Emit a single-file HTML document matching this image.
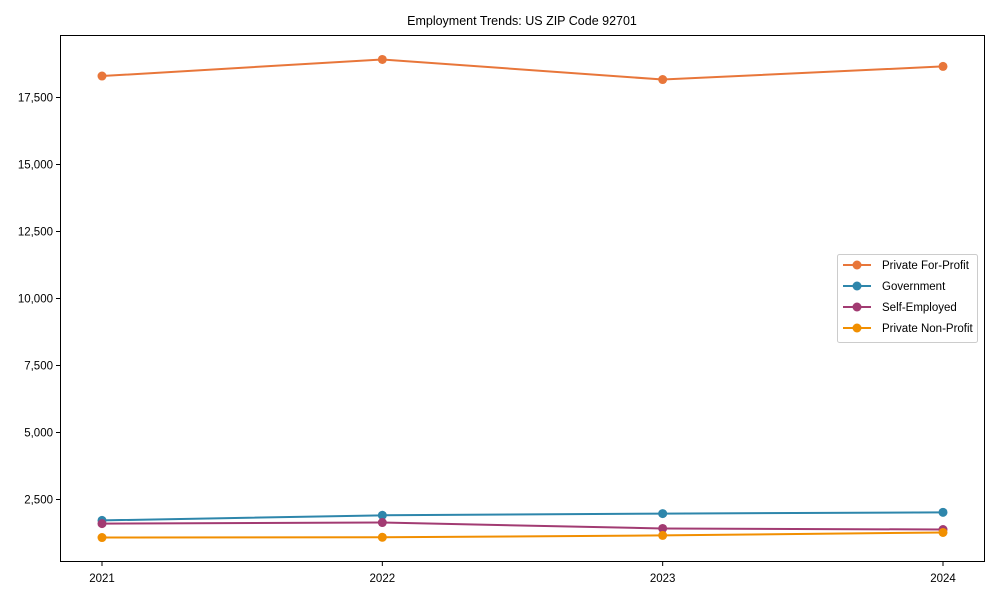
<!DOCTYPE html>
<html><head><meta charset="utf-8"><style>
body{margin:0;background:#fff;}
svg{font-family:"Liberation Sans",Arial,sans-serif;}
</style></head><body>
<svg id="chart" width="1000" height="600">
<text x="522" y="25" text-anchor="middle" font-size="12.5">Employment Trends: US ZIP Code 92701</text>
<rect x="60.5" y="35.5" width="924" height="526" fill="none" stroke="#000" stroke-width="1"/>
<g id="yaxis"></g><g id="xaxis"></g><g id="series"></g>
<g>
<rect x="837.5" y="254.5" width="140" height="88" fill="#fff" stroke="#ccc" rx="2"/>
<g id="legend"></g>
</g>
</svg>
<script>
const years=["2021","2022","2023","2024"];
const names=["Private For-Profit","Government","Self-Employed","Private Non-Profit"];
const colors=["#e8763a","#2e86ab","#a23b72","#f18f01"];
const forProfit=[18300,18920,18170,18660];
const government=[1720,1910,1975,2020];
const selfEmployed=[1600,1640,1420,1380];
const nonProfit=[1080,1090,1160,1270];
const yTicks=[2500,5000,7500,10000,12500,15000,17500];
const ns="http://www.w3.org/2000/svg";
function X(i){return 102+i*(943-102)/(years.length-1);}
function Y(v){return 566.5-v*(67/2500);}
function mk(t,a,p){const e=document.createElementNS(ns,t);for(const k in a)e.setAttribute(k,a[k]);p.appendChild(e);return e;}
const ya=document.getElementById('yaxis'),xa=document.getElementById('xaxis'),sg=document.getElementById('series'),lg=document.getElementById('legend');
yTicks.forEach(v=>{
 const l=mk('line',{x1:56,x2:60.5,y1:Y(v),y2:Y(v),stroke:'#000'},ya);
 
 
 const t=mk('text',{x:53,y:Y(v)+4,'text-anchor':'end','font-size':11.5},ya);
 t.textContent=v.toLocaleString('en-US');
 
 
});
years.forEach((y,i)=>{
 const l=mk('line',{x1:X(i),x2:X(i),y1:561.5,y2:566,stroke:'#000'},xa);
 
 
 const t=mk('text',{x:X(i),y:582,'text-anchor':'middle','font-size':11.5},xa);
 t.textContent=y;
 
 
});
[forProfit,government,selfEmployed,nonProfit].forEach((d,s)=>{
 const g=mk('g',{},sg);
 
 
 mk('polyline',{points:d.map((v,i)=>X(i)+','+Y(v)).join(' '),fill:'none',stroke:colors[s],'stroke-width':2},g);
 d.forEach((v,i)=>{
  const c=mk('circle',{cx:X(i),cy:Y(v),r:4.5,fill:colors[s]},g);
  
  
 });
 const ly=265+s*21;
 const le=mk('g',{},lg);
 
 
 mk('line',{x1:843,x2:871,y1:ly,y2:ly,stroke:colors[s],'stroke-width':2},le);
 mk('circle',{cx:857,cy:ly,r:4.5,fill:colors[s]},le);
 const t=mk('text',{x:882,y:ly+4,'font-size':11.5},le);
 t.textContent=names[s];
});
</script>
</body></html>
